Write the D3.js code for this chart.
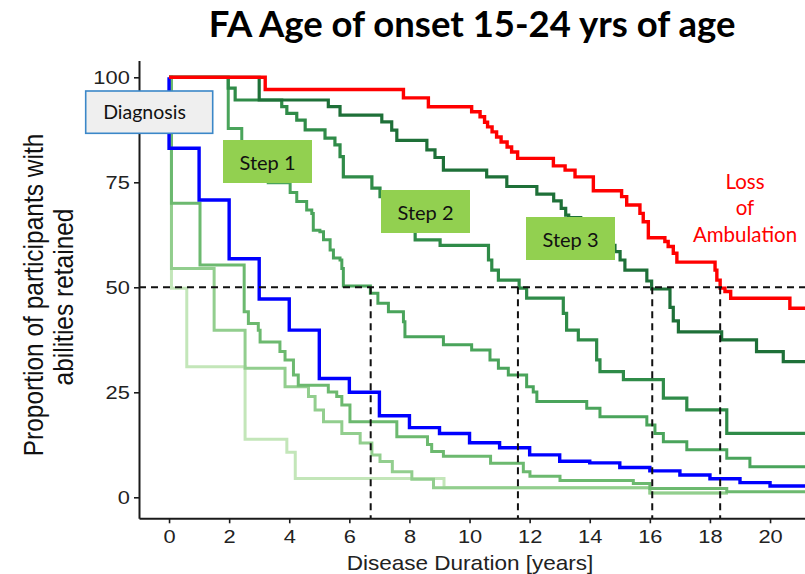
<!DOCTYPE html>
<html><head><meta charset="utf-8">
<script src="https://cdn.jsdelivr.net/npm/d3@7"></script>
<style>body{margin:0;background:#fff}svg{display:block}</style>
</head><body>
<svg id="c" width="805" height="574"></svg>
<script>
// ---- data (years, % retained) ----
const xTicks = [0,2,4,6,8,10,12,14,16,18,20];
const yTicks = [0,25,50,75,100];
const medianTimes = [6.71, 11.61, 16.08, 18.34];

const lossOfAmbulation = [[0,100],[3.2,97.1],[7.8,95.1],[8.63,93],[10.07,91.8],[10.35,90.6],[10.5,89.3],[10.6,88.2],[10.75,87],[10.9,85.8],[11.05,84.6],[11.25,83.4],[11.4,82.2],[11.6,80.7],[12.79,78.9],[13.18,77.9],[13.51,76.3],[14.12,73],[15.06,71.6],[15.23,69.6],[15.67,67.6],[15.78,65.6],[15.95,61.8],[16.5,60.9],[16.61,59.7],[16.78,58.1],[16.9,56],[18.17,54.1],[18.23,51.7],[18.34,49.8],[18.5,49],[18.69,47.4],[20.66,45],[21.2,45]];
const step3 = [[0,100],[3.0,94.6],[5.3,93],[5.69,91],[7.08,89.4],[7.41,87.4],[7.58,85],[8.58,82.7],[8.85,80.9],[9.13,77.9],[10.57,76.3],[11.24,74],[12.24,72.2],[12.8,70.6],[13.05,68.8],[13.2,67.2],[13.3,66.6],[13.7,64.5],[14.2,62],[14.6,60],[14.84,58.5],[15.01,56.5],[15.17,54.1],[15.9,51.5],[16.06,49.6],[16.67,45.2],[16.78,42],[16.95,39.4],[18.39,37.5],[19.55,34.7],[20.44,32.3],[21.2,32.3]];
const step2 = [[0,100],[1.97,97.4],[2.2,94.6],[3.75,93],[3.92,91.4],[4.25,89.8],[4.53,87.5],[5.19,85.5],[5.52,83.9],[5.69,81.1],[5.8,76.3],[6.75,73.6],[7.02,71.6],[7.4,68.5],[7.8,65.5],[8.19,61.3],[9.02,60],[10.63,56.5],[10.74,54.1],[10.96,51.7],[11.65,49.8],[11.9,47.4],[13.12,43.8],[13.23,39.8],[13.62,37.5],[14.23,32.7],[14.34,29.9],[15.12,28],[16.45,23.6],[17.23,20.8],[18.56,15.2],[21.2,15.2]];
const step1 = [[0,100],[1.97,87.8],[2.42,84],[2.8,80],[3.1,77],[3.3,74.9],[4.03,72.6],[4.25,70.4],[4.58,68.4],[4.75,67.6],[4.8,63.6],[5.02,63.2],[5.14,61.3],[5.36,58.9],[5.47,57],[5.69,56.5],[5.75,54.5],[5.8,50.3],[6.7,48.6],[6.95,46.2],[7.3,44.2],[7.8,41.8],[7.85,38.2],[9.13,36.3],[10.07,35.1],[10.68,32.7],[10.96,30.7],[11.29,29.1],[11.9,26.3],[12.12,25.1],[12.24,22.8],[13.9,21.2],[14.34,19.2],[15.9,17.2],[16.17,15.2],[16.45,13.2],[17.23,11.3],[18.56,9.3],[19.33,7.3],[21.2,7.3]];
const diagnosis = [[0,100],[0,83.1],[1,70.8],[2,56.8],[3,47.2],[4,39.8],[5,28.3],[6,25],[7,19.4],[8,16.6],[9,15.2],[10,13],[11,11.8],[12,10.1],[13,8.6],[14,8.2],[15,7.1],[16,6.3],[17,5.3],[18,4.4],[19,3.5],[20,2.7],[21.2,2.7]];
const earlyA = [[0,100],[0.08,70],[1.03,55.3],[2.5,44.2],[2.64,41.4],[2.97,39.8],[3.03,37],[3.69,34.7],[3.86,32.7],[4.14,29.1],[4.3,26.7],[5.3,25.1],[5.58,24],[5.75,22],[6.02,18],[7.58,14.4],[8.6,12.6],[8.74,10.9],[9.13,9.8],[10.7,8.1],[11.79,6.1],[12.01,5.0],[13.01,4.0],[15.45,3.3],[16.0,2.1],[18.56,1.3],[21.2,1.3]];
const earlyB = [[0,100],[0.08,54.5],[1.5,39.8],[2.53,30.7],[3.86,26.3],[4.64,24],[4.86,20.8],[5.14,18],[5.75,15.2],[6.36,12.9],[6.75,10.1],[7.02,8.5],[7.43,6.1],[8.08,4.3],[8.8,2.3],[16.0,1.0],[18.6,1.0]];
const earlyC = [[0,100],[0.08,49.8],[0.59,31.1],[2.53,13.8],[3.92,10.7],[4.2,4.5],[9.15,2.3],[16.0,1.0],[18.6,1.0]];

// ---- drawing ----
const svg = d3.select("#c");
const x = d3.scaleLinear().domain([-1, 21.15]).range([139, 804.6]);
const y = d3.scaleLinear().domain([-5, 104]).range([518.3, 60.5]);
const SX = 1.15;

const line = d3.line().x(d => x(d[0])).y(d => y(d[1])).curve(d3.curveStepAfter);
const series = [
  {d: earlyC, c: "#c3e6b9", w: 3},
  {d: earlyB, c: "#92ce8e", w: 3},
  {d: earlyA, c: "#6cb96f", w: 3},
  {d: step1, c: "#4aa45b", w: 3},
  {d: step2, c: "#2f8b48", w: 3.2},
  {d: step3, c: "#1e7038", w: 3.2},
  {d: diagnosis, c: "#0000ff", w: 3.4},
  {d: lossOfAmbulation, c: "#ff0000", w: 3.4}
];
const gL = svg.append("g");
series.forEach(s => {
  gL.append("path").attr("d", line(s.d)).attr("fill", "none")
    .attr("stroke", s.c).attr("stroke-width", s.w).attr("stroke-linejoin", "miter");
});

// median dashed lines
const gD = svg.append("g").attr("stroke", "#111").attr("stroke-width", 2).attr("stroke-dasharray", "7,5").attr("fill", "none");
gD.append("line").attr("x1", x(-1)).attr("x2", 805).attr("y1", y(50)).attr("y2", y(50));
medianTimes.forEach(t => {
  gD.append("line").attr("x1", x(t)).attr("x2", x(t)).attr("y1", y(50)).attr("y2", y(-5));
});

// axes
const axFont = "'Liberation Sans', Arial, sans-serif";
const yAx = svg.append("g").attr("transform", `translate(${x(-1)},0)`)
  .call(d3.axisLeft(y).tickValues(yTicks).tickSize(5).tickSizeOuter(0).tickPadding(3));
const xAx = svg.append("g").attr("transform", `translate(0,${y(-5)})`)
  .call(d3.axisBottom(x).tickValues(xTicks).tickSize(5).tickSizeOuter(0).tickPadding(6));
[yAx, xAx].forEach(a => {
  a.select(".domain").attr("stroke", "#1a1a1a").attr("stroke-width", 2);
  a.selectAll(".tick line").attr("stroke", "#1a1a1a").attr("stroke-width", 1.6);
  a.selectAll(".tick text").attr("font-family", axFont).attr("font-size", 19)
    .attr("fill", "#222").attr("transform", `scale(${SX},1)`);
});

svg.append("text").attr("x", 0).attr("y", 0)
  .attr("transform", `translate(470,569.5) scale(1.1,1)`)
  .attr("text-anchor", "middle").attr("font-family", axFont).attr("font-size", 20.5)
  .attr("fill", "#222").text("Disease Duration [years]");

svg.append("text").attr("transform", `translate(43,295) scale(${SX},1) rotate(-90)`)
  .attr("text-anchor", "middle").attr("font-family", axFont).attr("font-size", 24.5)
  .attr("fill", "#111").text("Proportion of participants with");
svg.append("text").attr("transform", `translate(73,297) scale(${SX},1) rotate(-90)`)
  .attr("text-anchor", "middle").attr("font-family", axFont).attr("font-size", 24.5)
  .attr("fill", "#111").text("abilities retained");

// title
const ovFont = "Lato, 'Open Sans', sans-serif";
svg.append("text").attr("x", 472).attr("y", 37).attr("text-anchor", "middle")
  .attr("font-family", ovFont).attr("font-weight", "bold").attr("font-size", 36.5)
  .attr("fill", "#000").text("FA Age of onset 15-24 yrs of age");

// annotation boxes
svg.append("rect").attr("x", 85.7).attr("y", 91).attr("width", 127).attr("height", 42.3)
  .attr("fill", "#efefef").attr("stroke", "#3b87c8").attr("stroke-width", 1.6);
svg.append("text").attr("x", 144.5).attr("y", 119).attr("text-anchor", "middle")
  .attr("font-family", ovFont).attr("font-size", 19.5).attr("fill", "#111").text("Diagnosis");

const steps = [
  {label: "Step 1", x: 223, y: 140},
  {label: "Step 2", x: 381, y: 190},
  {label: "Step 3", x: 526, y: 217}
];
steps.forEach(s => {
  svg.append("rect").attr("x", s.x).attr("y", s.y).attr("width", 89).attr("height", 43).attr("fill", "#92d050");
  svg.append("text").attr("x", s.x + 44.5).attr("y", s.y + 29.5).attr("text-anchor", "middle")
    .attr("font-family", ovFont).attr("font-size", 20).attr("fill", "#111").text(s.label);
});

const lossLines = ["Loss", "of", "Ambulation"];
const lossY = [188.5, 215, 241.5];
lossLines.forEach((t, i) => {
  svg.append("text").attr("x", 745).attr("y", lossY[i]).attr("text-anchor", "middle")
    .attr("font-family", ovFont).attr("font-size", 20.5).attr("fill", "#ff0000").text(t);
});
</script>
</body></html>
